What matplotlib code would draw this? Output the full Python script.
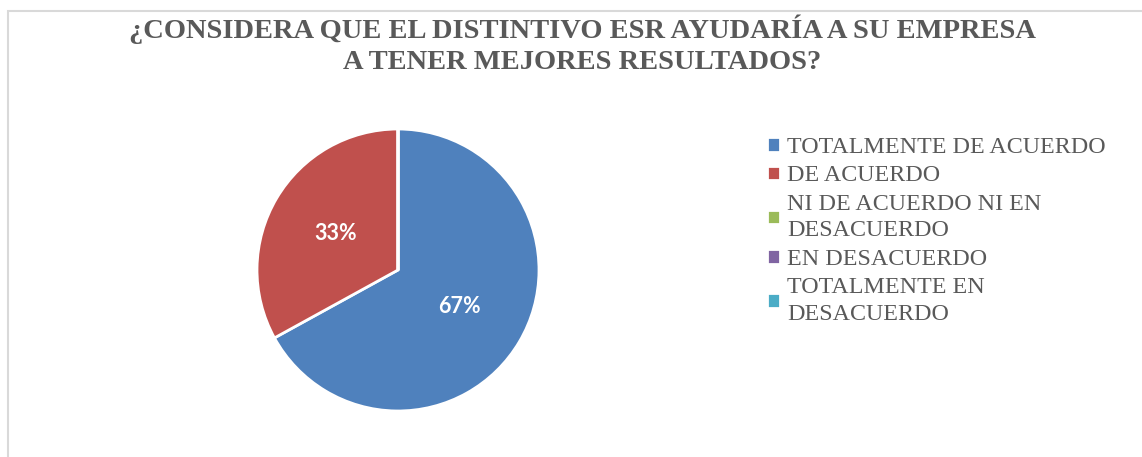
import matplotlib.pyplot as plt
from matplotlib.patches import Rectangle

# datos de la encuesta
categorias = ["TOTALMENTE DE ACUERDO", "DE ACUERDO", "NI DE ACUERDO NI EN\nDESACUERDO",
              "EN DESACUERDO", "TOTALMENTE EN\nDESACUERDO"]
porcentajes = [67, 33, 0, 0, 0]
colores = ["#4F81BD", "#C0504D", "#9BBB59", "#8064A2", "#4BACC6"]
titulo = "¿CONSIDERA QUE EL DISTINTIVO ESR AYUDARÍA A SU EMPRESA\nA TENER MEJORES RESULTADOS?"

gris = "#595959"


def etiqueta(p):
    # no mostrar las categorías vacías
    if p < 0.5:
        return ""
    return "%d%%" % round(p)


fig = plt.figure(figsize=(11.42, 4.57), dpi=100)
fig.patch.set_facecolor("white")

# marco del gráfico (solo se ve arriba e izquierda)
fig.patches.append(Rectangle((8 / 1142, -0.1), 1.2, (457 - 11) / 457 + 0.1,
                             transform=fig.transFigure, fill=False,
                             edgecolor="#d9d9d9", linewidth=1.5))

ax = fig.add_axes([257 / 1142, 46 / 457, 282 / 1142, 282 / 457])
wedges, textos, autotextos = ax.pie(porcentajes, colors=colores, startangle=90, counterclock=False,
                                    autopct=etiqueta, pctdistance=0.51,
                                    wedgeprops=dict(edgecolor="white", linewidth=2))
for t in autotextos:
    t.set_color("white")
    t.set_fontsize(15.5)
    t.set_fontweight("bold")
    t.set_fontfamily("Lato")
ax.set_xlim(-1, 1)
ax.set_ylim(-1, 1)
ax.set_aspect("equal")

fig.text(0.510, 1 - 15 / 457, titulo, ha="center", va="top", fontsize=20.5,
         fontweight="bold", family="Liberation Serif", color=gris, linespacing=1.3)

leg = fig.legend(wedges, categorias, loc="upper left", bbox_to_anchor=(767 / 1142, 1 - 137 / 457),
                 frameon=False, prop=dict(family="Liberation Serif", size=17.3),
                 handlelength=0.55, handleheight=0.55, handletextpad=0.3,
                 labelspacing=0.31, borderpad=0, borderaxespad=0)
for t in leg.get_texts():
    t.set_color(gris)
    t.set_linespacing(1.34)

fig.savefig("out.png", dpi=100)
